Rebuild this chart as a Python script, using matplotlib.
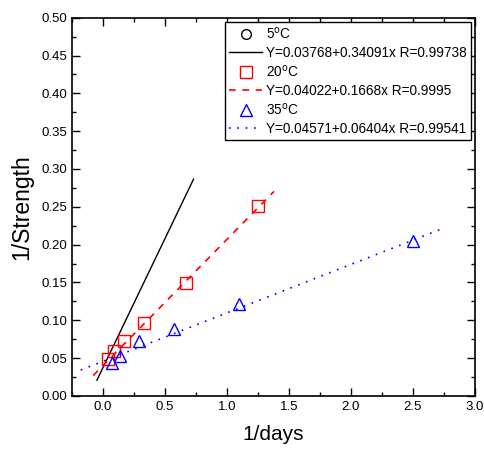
import matplotlib
matplotlib.use("Agg")
import matplotlib.pyplot as plt
import numpy as np
from matplotlib.lines import Line2D

plt.rcParams["font.family"] = ["Liberation Sans", "DejaVu Sans"]

# --- data ---
x_20 = [0.04, 0.09, 0.17, 0.33, 0.67, 1.25]
y_20 = [0.049, 0.059, 0.073, 0.096, 0.149, 0.251]

x_35 = [0.07, 0.14, 0.29, 0.57, 1.10, 2.50]
y_35 = [0.044, 0.053, 0.072, 0.089, 0.121, 0.205]

# fitted lines: intercept, slope, R, x range of the drawn segment
fit_5 = (0.03768, 0.34091, 0.99738, (-0.05, 0.73))
fit_20 = (0.04022, 0.1668, 0.9995, (-0.08, 1.38))
fit_35 = (0.04571, 0.06404, 0.99541, (-0.18, 2.75))

fig = plt.figure(figsize=(4.84, 4.55), dpi=100)
ax = fig.add_axes([0.149, 0.130, 0.832, 0.831])


def fit_line(fit, **kw):
    a, b, r, (x0, x1) = fit
    xx = np.array([x0, x1])
    lbl = f"Y={a}+{b}x R={r}"
    return ax.plot(xx, a + b * xx, label=lbl, **kw)[0]


h5m = Line2D([], [], ls="none", marker="o", mfc="none", mec="black", ms=7,
             label="5$^{\\mathrm{o}}$C")
h5l = fit_line(fit_5, color="black", lw=1.0)

h20m, = ax.plot(x_20, y_20, ls="none", marker="s", mfc="none", mec="red",
                ms=8, mew=1.0, label="20$^{\\mathrm{o}}$C")
h20l = fit_line(fit_20, color="red", lw=1.2, ls=(0, (4, 4)))

h35m, = ax.plot(x_35, y_35, ls="none", marker="^", mfc="none", mec="blue",
                ms=9, mew=1.0, label="35$^{\\mathrm{o}}$C")
h35l = fit_line(fit_35, color="blue", lw=1.2, ls=(0, (1, 4)))

ax.set_xlim(-0.25, 3.0)
ax.set_ylim(0, 0.5)
ax.set_xticks(np.arange(0, 3.01, 0.5))
ax.set_yticks(np.arange(0, 0.501, 0.05))
ax.set_xticks(np.arange(-0.25, 3.01, 0.25), minor=True)
ax.set_yticks(np.arange(0, 0.501, 0.025), minor=True)
ax.xaxis.set_major_formatter(plt.FuncFormatter(lambda v, p: f"{v:.1f}"))
ax.yaxis.set_major_formatter(plt.FuncFormatter(lambda v, p: f"{v:.2f}"))

ax.tick_params(which="major", direction="in", length=6, width=1,
               labelsize=9.5, top=True, right=True)
ax.tick_params(which="minor", direction="in", length=3, width=1,
               top=True, right=True)
for s in ax.spines.values():
    s.set_linewidth(1.2)

ax.set_xlabel("1/days", fontsize=15, labelpad=9)
ax.set_ylabel("1/Strength", fontsize=16.5, labelpad=6)

leg = ax.legend(handles=[h5m, h5l, h20m, h20l, h35m, h35l],
                loc="upper right", bbox_to_anchor=(0.99, 0.99),
                fontsize=9.8, frameon=True, fancybox=False, edgecolor="black",
                framealpha=1, handlelength=2.4, handletextpad=0.3,
                labelspacing=0.3, borderpad=0.3, borderaxespad=0)
leg.get_frame().set_linewidth(1.0)

fig.savefig("out.png", dpi=100)
